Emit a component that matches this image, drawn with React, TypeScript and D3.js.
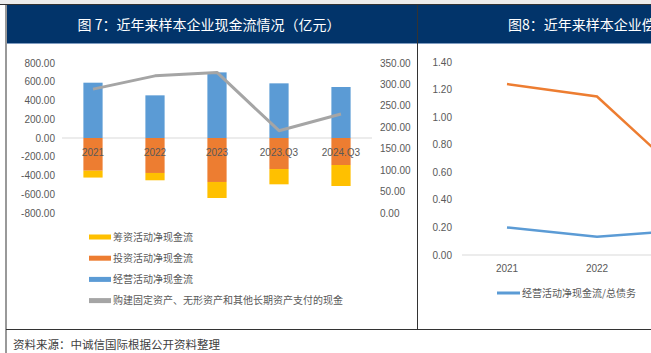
import * as d3 from "d3";

const categories = ["2021", "2022", "2023", "2023.Q3", "2024.Q3"];
const operating = [590, 455, 700, 583, 544];
const investing = [-349, -373, -469, -331, -288];
const financing = [-73, -78, -171, -163, -224];
const capex = [289, 320, 328, 192, 231];

const leftTicks = [-800, -600, -400, -200, 0, 200, 400, 600, 800];
const rightTicks = [0, 50, 100, 150, 200, 250, 300, 350];

const ratioCats = ["2021", "2022", "2023"];
const ratioCash = [1.24, 1.15, 0.55];
const ratioOp = [0.2, 0.133, 0.18];
const ratioTicks = [0, 0.2, 0.4, 0.6, 0.8, 1.0, 1.2, 1.4];

const legendItems = [
  { label: "筹资活动净现金流", color: "#FFC000" },
  { label: "投资活动净现金流", color: "#ED7D31" },
  { label: "经营活动净现金流", color: "#5B9BD5" },
  { label: "购建固定资产、无形资产和其他长期资产支付的现金", color: "#A5A5A5" },
];

const W = 651;
const H = 353;
const AXIS = "#595959";
const FONT = "'Liberation Sans', Arial, sans-serif";
const CJK = "'Noto Sans CJK SC', sans-serif";

export default function App() {
  // left chart
  const x = d3
    .scaleBand()
    .domain(categories)
    .range([62, 372])
    .paddingInner(0.69)
    .paddingOuter(0.345);
  const yL = d3.scaleLinear().domain([-800, 800]).range([213, 63]);
  const yR = d3.scaleLinear().domain([0, 350]).range([213, 63]);

  const rows = categories.map((c, i) => ({
    cat: c,
    op: operating[i],
    inv: investing[i],
    fin: financing[i],
  }));
  const series = d3
    .stack<any>()
    .keys(["op", "inv", "fin"])
    .offset(d3.stackOffsetDiverging)(rows);
  const colors: Record<string, string> = {
    op: "#5B9BD5",
    inv: "#ED7D31",
    fin: "#FFC000",
  };

  const capexLine = d3
    .line<number>()
    .x((_, i) => x(categories[i])! + x.bandwidth() / 2)
    .y((d) => yR(d));

  // right chart (only partly visible, runs off the right edge)
  const x2 = d3.scalePoint().domain(ratioCats).range([507, 687]);
  const y2 = d3.scaleLinear().domain([0, 1.4]).range([255, 62]);
  const ratioLine = d3
    .line<number>()
    .x((_, i) => x2(ratioCats[i])!)
    .y((d) => y2(d));

  return (
    <svg
      width={W}
      height={H}
      style={{ position: "absolute", left: 0, top: 0, background: "#fff" }}
    >
      <rect x={0} y={0} width={W} height={4} fill="#ececec" />
      <line x1={0} x2={W} y1={4.5} y2={4.5} stroke="#333" />
      <rect x={6} y={5} width={W - 6} height={38} fill="#02346A" />
      <line x1={6} x2={W} y1={43.5} y2={43.5} stroke="#7f9cc0" />
      <line x1={6} x2={6} y1={5} y2={H} stroke="#999" strokeWidth={2} />
      <line x1={417.5} x2={417.5} y1={5} y2={329} stroke="#333" />
      <line x1={6} x2={W} y1={329.5} y2={329.5} stroke="#333" />

      <text
        x={209}
        y={30}
        textAnchor="middle"
        fill="#fff"
        fontSize={14}
        fontFamily={CJK}
      >
        图 7：近年来样本企业现金流情况（亿元）
      </text>
      <text x={508} y={30} fill="#fff" fontSize={14} fontFamily={CJK}>
        图8：近年来样本企业偿债
      </text>

      {/* left chart */}
      <line x1={62} x2={372} y1={yL(0)} y2={yL(0)} stroke="#D9D9D9" />
      {series.map((s) => (
        <g key={s.key}>
          {s.map((d, j) => (
            <rect
              key={j}
              x={x(categories[j])}
              width={x.bandwidth()}
              y={yL(Math.max(d[0], d[1]))}
              height={Math.abs(yL(d[0]) - yL(d[1]))}
              fill={colors[s.key]}
            />
          ))}
        </g>
      ))}
      <path
        d={capexLine(capex)!}
        fill="none"
        stroke="#A5A5A5"
        strokeWidth={3}
        strokeLinejoin="round"
      />
      {categories.map((c) => (
        <text
          key={c}
          x={x(c)! + x.bandwidth() / 2}
          y={156}
          textAnchor="middle"
          fontSize={10}
          fontFamily={FONT}
          fill={AXIS}
        >
          {c}
        </text>
      ))}
      {leftTicks.map((t) => (
        <text
          key={t}
          x={55}
          y={yL(t) + 3.5}
          textAnchor="end"
          fontSize={10}
          fontFamily={FONT}
          fill={AXIS}
        >
          {t.toFixed(2)}
        </text>
      ))}
      {rightTicks.map((t) => (
        <text
          key={t}
          x={380}
          y={yR(t) + 3.5}
          fontSize={10}
          fontFamily={FONT}
          fill={AXIS}
        >
          {t.toFixed(2)}
        </text>
      ))}
      {legendItems.map((l, i) => (
        <g key={l.label} transform={`translate(89,${237 + i * 21.2})`}>
          <rect x={0} y={-2.5} width={22} height={5} fill={l.color} />
          <text x={24} y={3.5} fontSize={10} fontFamily={CJK} fill={AXIS}>
            {l.label}
          </text>
        </g>
      ))}

      {/* right chart */}
      <line x1={462} x2={W} y1={y2(0)} y2={y2(0)} stroke="#D9D9D9" />
      {ratioTicks.map((t) => (
        <text
          key={t}
          x={452}
          y={y2(t) + 3.5}
          textAnchor="end"
          fontSize={10}
          fontFamily={FONT}
          fill={AXIS}
        >
          {t.toFixed(2)}
        </text>
      ))}
      {ratioCats
        .filter((c) => x2(c)! + 12 < W)
        .map((c) => (
          <text
            key={c}
            x={x2(c)}
            y={272}
            textAnchor="middle"
            fontSize={10}
            fontFamily={FONT}
            fill={AXIS}
          >
            {c}
          </text>
        ))}
      <path
        d={ratioLine(ratioCash)!}
        fill="none"
        stroke="#ED7D31"
        strokeWidth={2.5}
      />
      <path
        d={ratioLine(ratioOp)!}
        fill="none"
        stroke="#5B9BD5"
        strokeWidth={2.5}
      />
      <rect x={497} y={291.5} width={23} height={3} fill="#5B9BD5" />
      <text x={522} y={296.5} fontSize={10} fontFamily={CJK} fill={AXIS}>
        经营活动净现金流/总债务
      </text>

      <text x={13} y={349} fontSize={11.5} fontFamily={CJK} fill="#404040">
        资料来源：中诚信国际根据公开资料整理
      </text>
    </svg>
  );
}
